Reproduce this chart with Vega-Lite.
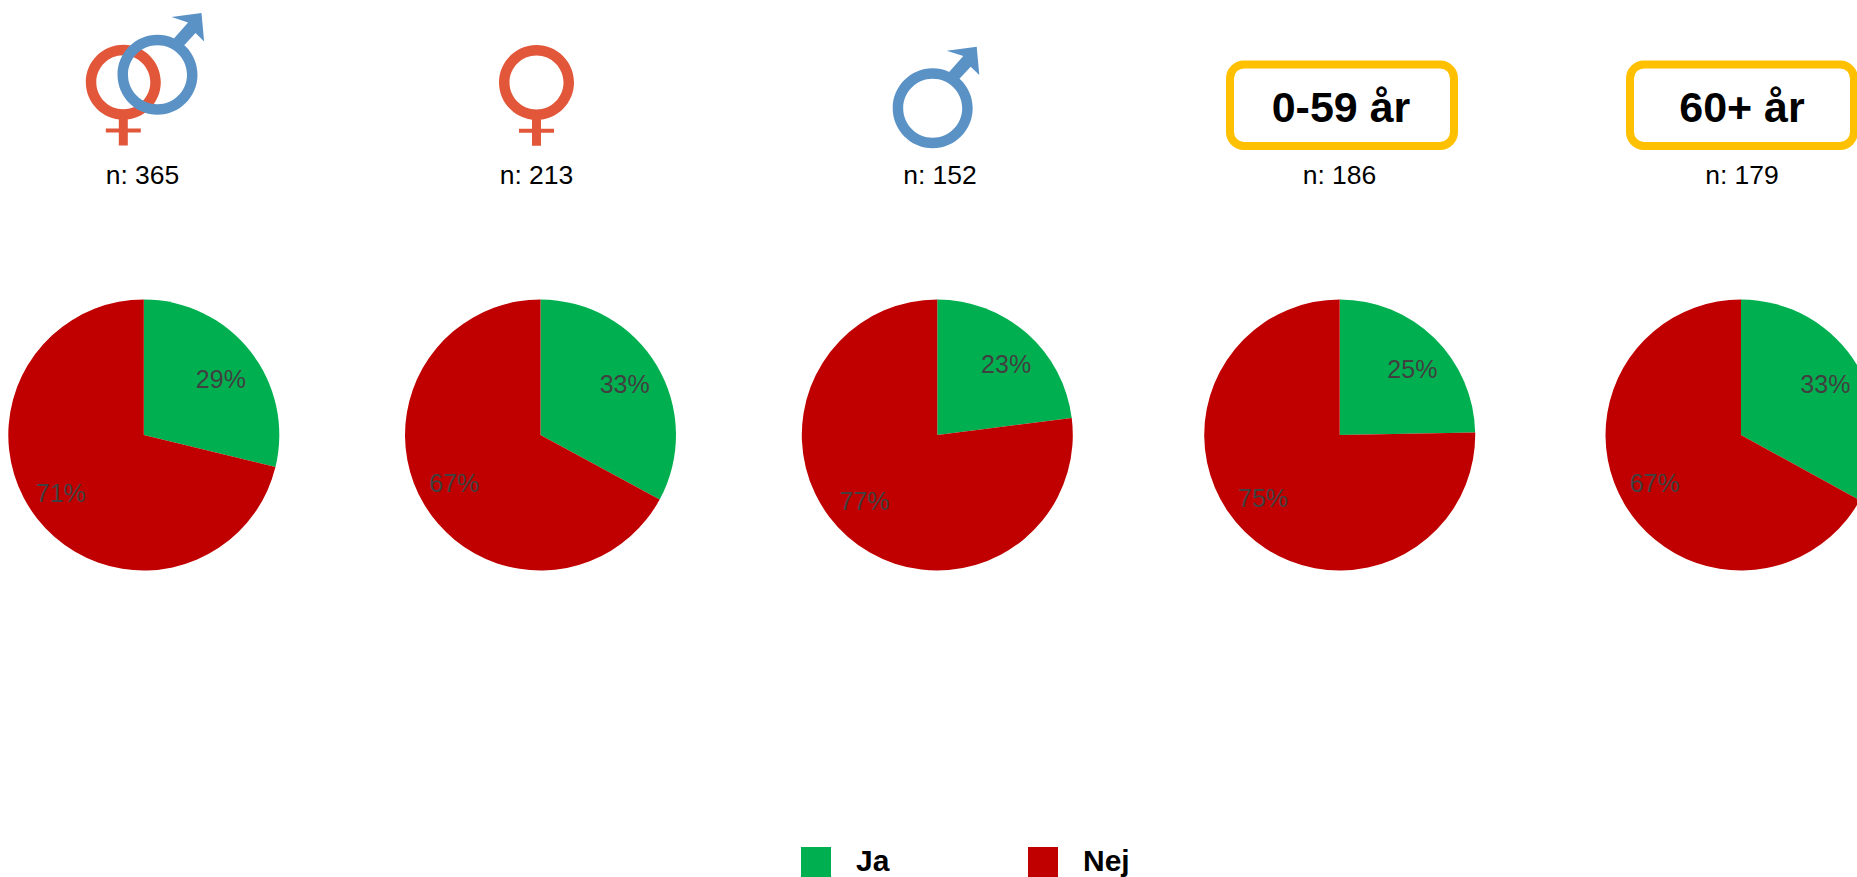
{"$schema":"https://vega.github.io/schema/vega-lite/v6.json","width":1857,"height":877,"padding":0,"autosize":{"type":"none"},"background":"white","config":{"view":{"stroke":null},"font":"Liberation Sans"},"resolve":{"scale":{"x":"independent"}},
"datasets":{"svar":[
{"panel":1,"rad":3,"svar":"Ja","andel":0.288},{"panel":1,"rad":3,"svar":"Nej","andel":0.712},
{"panel":2,"rad":3,"svar":"Ja","andel":0.329},{"panel":2,"rad":3,"svar":"Nej","andel":0.671},
{"panel":3,"rad":3,"svar":"Ja","andel":0.23},{"panel":3,"rad":3,"svar":"Nej","andel":0.77},
{"panel":4,"rad":3,"svar":"Ja","andel":0.247},{"panel":4,"rad":3,"svar":"Nej","andel":0.753},
{"panel":5,"rad":3,"svar":"Ja","andel":0.33},{"panel":5,"rad":3,"svar":"Nej","andel":0.67}],
"n":[{"panel":1,"rad":2,"label":"n: 365"},{"panel":2,"rad":2,"label":"n: 213"},{"panel":3,"rad":2,"label":"n: 152"},{"panel":4,"rad":2,"label":"n: 186"},{"panel":5,"rad":2,"label":"n: 179"}],
"ikon":[{"panel":1,"rad":0}],"ikon2":[{"panel":2,"rad":0}],"ikon3":[{"panel":3,"rad":0}],
"box":[{"panel":4,"rad":1,"label":"0-59 år"},{"panel":5,"rad":1,"label":"60+ år"}]},
"layer":[
{"data":{"name":"ikon"},"mark":{"type":"point","filled":true,"opacity":1,"fill":"#E2573A","size":40000,"shape":"M-.58,-.358 A.375,.375 0 1 1 .17,-.358 A.375,.375 0 1 1 -.58,-.358 Z M-.475,-.358 A.27,.27 0 1 0 .065,-.358 A.27,.27 0 1 0 -.475,-.358 Z M-.25,-.008 L-.16,-.008 L-.16,.104 L-.03,.104 L-.03,.144 L-.16,.144 L-.16,.274 L-.25,.274 L-.25,.144 L-.38,.144 L-.38,.104 L-.25,.104 Z"},"encoding":{"x":{"field":"panel","type":"quantitative","axis":null,"scale":{"domain":[1,2,3,4,5],"range":[143.8,540.5,937.3,1339.7,1741]}},"y":{"field":"rad","type":"quantitative","axis":null,"scale":{"domain":[0,1,2,3],"range":[118,105.2,176,435]}}}},
{"data":{"name":"ikon"},"mark":{"type":"point","filled":true,"opacity":1,"fill":"#5A92C6","size":40000,"shape":"M-.263,-.433 A.4,.4 0 1 1 .537,-.433 A.4,.4 0 1 1 -.263,-.433 Z M-.158,-.433 A.295,.295 0 1 0 .432,-.433 A.295,.295 0 1 0 -.158,-.433 Z M.277,-1.009 L.577,-1.049 L.603,-.766 L.517,-.849 L.367,-.688 L.277,-.768 L.443,-.956 Z"},"encoding":{"x":{"field":"panel","type":"quantitative","axis":null,"scale":{"domain":[1,2,3,4,5],"range":[143.8,540.5,937.3,1339.7,1741]}},"y":{"field":"rad","type":"quantitative","axis":null,"scale":{"domain":[0,1,2,3],"range":[118,105.2,176,435]}}}},
{"data":{"name":"ikon2"},"mark":{"type":"point","filled":true,"opacity":1,"fill":"#E2573A","size":40000,"shape":"M-.415,-.355 A.375,.375 0 1 1 .335,-.355 A.375,.375 0 1 1 -.415,-.355 Z M-.31,-.355 A.27,.27 0 1 0 .23,-.355 A.27,.27 0 1 0 -.31,-.355 Z M-.085,-.005 L.005,-.005 L.005,.107 L.135,.107 L.135,.147 L.005,.147 L.005,.277 L-.085,.277 L-.085,.147 L-.215,.147 L-.215,.107 L-.085,.107 Z"},"encoding":{"x":{"field":"panel","type":"quantitative","axis":null,"scale":{"domain":[1,2,3,4,5],"range":[143.8,540.5,937.3,1339.7,1741]}},"y":{"field":"rad","type":"quantitative","axis":null,"scale":{"domain":[0,1,2,3],"range":[118,105.2,176,435]}}}},
{"data":{"name":"ikon3"},"mark":{"type":"point","filled":true,"opacity":1,"fill":"#5A92C6","size":40000,"shape":"M-.446,-.097 A.4,.4 0 1 1 .354,-.097 A.4,.4 0 1 1 -.446,-.097 Z M-.341,-.097 A.295,.295 0 1 0 .249,-.097 A.295,.295 0 1 0 -.341,-.097 Z M.094,-.673 L.394,-.713 L.42,-.43 L.334,-.513 L.184,-.352 L.094,-.432 L.26,-.62 Z"},"encoding":{"x":{"field":"panel","type":"quantitative","axis":null,"scale":{"domain":[1,2,3,4,5],"range":[143.8,540.5,937.3,1339.7,1741]}},"y":{"field":"rad","type":"quantitative","axis":null,"scale":{"domain":[0,1,2,3],"range":[118,105.2,176,435]}}}},
{"data":{"name":"box"},"mark":{"type":"point","filled":false,"opacity":1,"stroke":"#FFC000","strokeWidth":8,"size":40000,"shape":"M-.98,-.408 L.98,-.408 A.14,.14 0 0 1 1.12,-.268 L1.12,.268 A.14,.14 0 0 1 .98,.408 L-.98,.408 A.14,.14 0 0 1 -1.12,.268 L-1.12,-.268 A.14,.14 0 0 1 -.98,-.408 Z"},"encoding":{"x":{"field":"panel","type":"quantitative","axis":null,"scale":{"domain":[4,5],"range":[1342,1742]}},"y":{"field":"rad","type":"quantitative","axis":null,"scale":{"domain":[0,1,2,3],"range":[118,105.2,176,435]}}}},
{"data":{"name":"box"},"mark":{"type":"text","font":"Liberation Sans","fontWeight":"bold","fontSize":43,"baseline":"middle","align":"center","color":"#000000","dy":4},"encoding":{"text":{"field":"label"},"x":{"field":"panel","type":"quantitative","axis":null,"scale":{"domain":[4,5],"range":[1341,1742]}},"y":{"field":"rad","type":"quantitative","axis":null,"scale":{"domain":[0,1,2,3],"range":[118,105.2,176,435]}}}},
{"data":{"name":"n"},"mark":{"type":"text","fontSize":26.5,"baseline":"middle","align":"center","color":"#000000"},"encoding":{"text":{"field":"label"},"x":{"field":"panel","type":"quantitative","axis":null,"scale":{"domain":[1,2,3,4,5],"range":[142.5,536.5,940,1339.5,1742]}},"y":{"field":"rad","type":"quantitative","axis":null,"scale":{"domain":[0,1,2,3],"range":[118,105.2,176,435]}}}},
{"data":{"name":"svar"},"transform":[{"filter":"datum.panel==1"}],"encoding":{"x":{"field":"panel","type":"quantitative","axis":null,"scale":{"domain":[1,2,3,4,5],"range":[143.8,540.5,937.3,1339.7,1741]}},"y":{"field":"rad","type":"quantitative","axis":null,"scale":{"domain":[0,1,2,3],"range":[118,105.2,176,435]}},"theta":{"field":"andel","type":"quantitative","stack":"zero","scale":{"domain":[0,1]}},"order":{"field":"svar","type":"nominal"}},"layer":[{"mark":{"type":"arc","outerRadius":135.5},"encoding":{"color":{"field":"svar","type":"nominal","scale":{"domain":["Ja","Nej"],"range":["#00B050","#C00000"]},"legend":{"orient":"none","legendX":801,"legendY":847,"direction":"horizontal","title":null,"symbolType":"square","symbolSize":900,"symbolStrokeWidth":0,"symbolOpacity":1,"labelFontSize":30,"labelFontWeight":"bold","labelColor":"#000000","labelFont":"Liberation Sans","labelOffset":25,"columnPadding":138,"padding":0}}}},{"mark":{"type":"text","radius":98,"fontSize":25,"color":"#404040","baseline":"middle","align":"center","dx":{"expr":"datum.svar=='Ja'?0:-6"},"dy":{"expr":"datum.svar=='Ja'?6:-2"}},"encoding":{"detail":{"field":"svar"},"text":{"field":"andel","type":"quantitative","format":".0%"}}}]},
{"data":{"name":"svar"},"transform":[{"filter":"datum.panel==2"}],"encoding":{"x":{"field":"panel","type":"quantitative","axis":null,"scale":{"domain":[1,2,3,4,5],"range":[143.8,540.5,937.3,1339.7,1741]}},"y":{"field":"rad","type":"quantitative","axis":null,"scale":{"domain":[0,1,2,3],"range":[118,105.2,176,435]}},"theta":{"field":"andel","type":"quantitative","stack":"zero","scale":{"domain":[0,1]}},"order":{"field":"svar","type":"nominal"}},"layer":[{"mark":{"type":"arc","outerRadius":135.5},"encoding":{"color":{"field":"svar","type":"nominal"}}},{"mark":{"type":"text","radius":98,"fontSize":25,"color":"#404040","baseline":"middle","align":"center","dx":{"expr":"datum.svar=='Ja'?0:-2"},"dy":{"expr":"datum.svar=='Ja'?0:-1"}},"encoding":{"detail":{"field":"svar"},"text":{"field":"andel","type":"quantitative","format":".0%"}}}]},
{"data":{"name":"svar"},"transform":[{"filter":"datum.panel==3"}],"encoding":{"x":{"field":"panel","type":"quantitative","axis":null,"scale":{"domain":[1,2,3,4,5],"range":[143.8,540.5,937.3,1339.7,1741]}},"y":{"field":"rad","type":"quantitative","axis":null,"scale":{"domain":[0,1,2,3],"range":[118,105.2,176,435]}},"theta":{"field":"andel","type":"quantitative","stack":"zero","scale":{"domain":[0,1]}},"order":{"field":"svar","type":"nominal"}},"layer":[{"mark":{"type":"arc","outerRadius":135.5},"encoding":{"color":{"field":"svar","type":"nominal"}}},{"mark":{"type":"text","radius":98,"fontSize":25,"color":"#404040","baseline":"middle","align":"center","dx":{"expr":"datum.svar=='Ja'?4:-8"},"dy":{"expr":"datum.svar=='Ja'?4:-7"}},"encoding":{"detail":{"field":"svar"},"text":{"field":"andel","type":"quantitative","format":".0%"}}}]},
{"data":{"name":"svar"},"transform":[{"filter":"datum.panel==4"}],"encoding":{"x":{"field":"panel","type":"quantitative","axis":null,"scale":{"domain":[1,2,3,4,5],"range":[143.8,540.5,937.3,1339.7,1741]}},"y":{"field":"rad","type":"quantitative","axis":null,"scale":{"domain":[0,1,2,3],"range":[118,105.2,176,435]}},"theta":{"field":"andel","type":"quantitative","stack":"zero","scale":{"domain":[0,1]}},"order":{"field":"svar","type":"nominal"}},"layer":[{"mark":{"type":"arc","outerRadius":135.5},"encoding":{"color":{"field":"svar","type":"nominal"}}},{"mark":{"type":"text","radius":98,"fontSize":25,"color":"#404040","baseline":"middle","align":"center","dx":{"expr":"datum.svar=='Ja'?4:-8"},"dy":{"expr":"datum.svar=='Ja'?5:-6"}},"encoding":{"detail":{"field":"svar"},"text":{"field":"andel","type":"quantitative","format":".0%"}}}]},
{"data":{"name":"svar"},"transform":[{"filter":"datum.panel==5"}],"encoding":{"x":{"field":"panel","type":"quantitative","axis":null,"scale":{"domain":[1,2,3,4,5],"range":[143.8,540.5,937.3,1339.7,1741]}},"y":{"field":"rad","type":"quantitative","axis":null,"scale":{"domain":[0,1,2,3],"range":[118,105.2,176,435]}},"theta":{"field":"andel","type":"quantitative","stack":"zero","scale":{"domain":[0,1]}},"order":{"field":"svar","type":"nominal"}},"layer":[{"mark":{"type":"arc","outerRadius":135.5},"encoding":{"color":{"field":"svar","type":"nominal"}}},{"mark":{"type":"text","radius":98,"fontSize":25,"color":"#404040","baseline":"middle","align":"center","dx":{"expr":"datum.svar=='Ja'?0:-2"},"dy":{"expr":"datum.svar=='Ja'?0:-1"}},"encoding":{"detail":{"field":"svar"},"text":{"field":"andel","type":"quantitative","format":".0%"}}}]}
]}
